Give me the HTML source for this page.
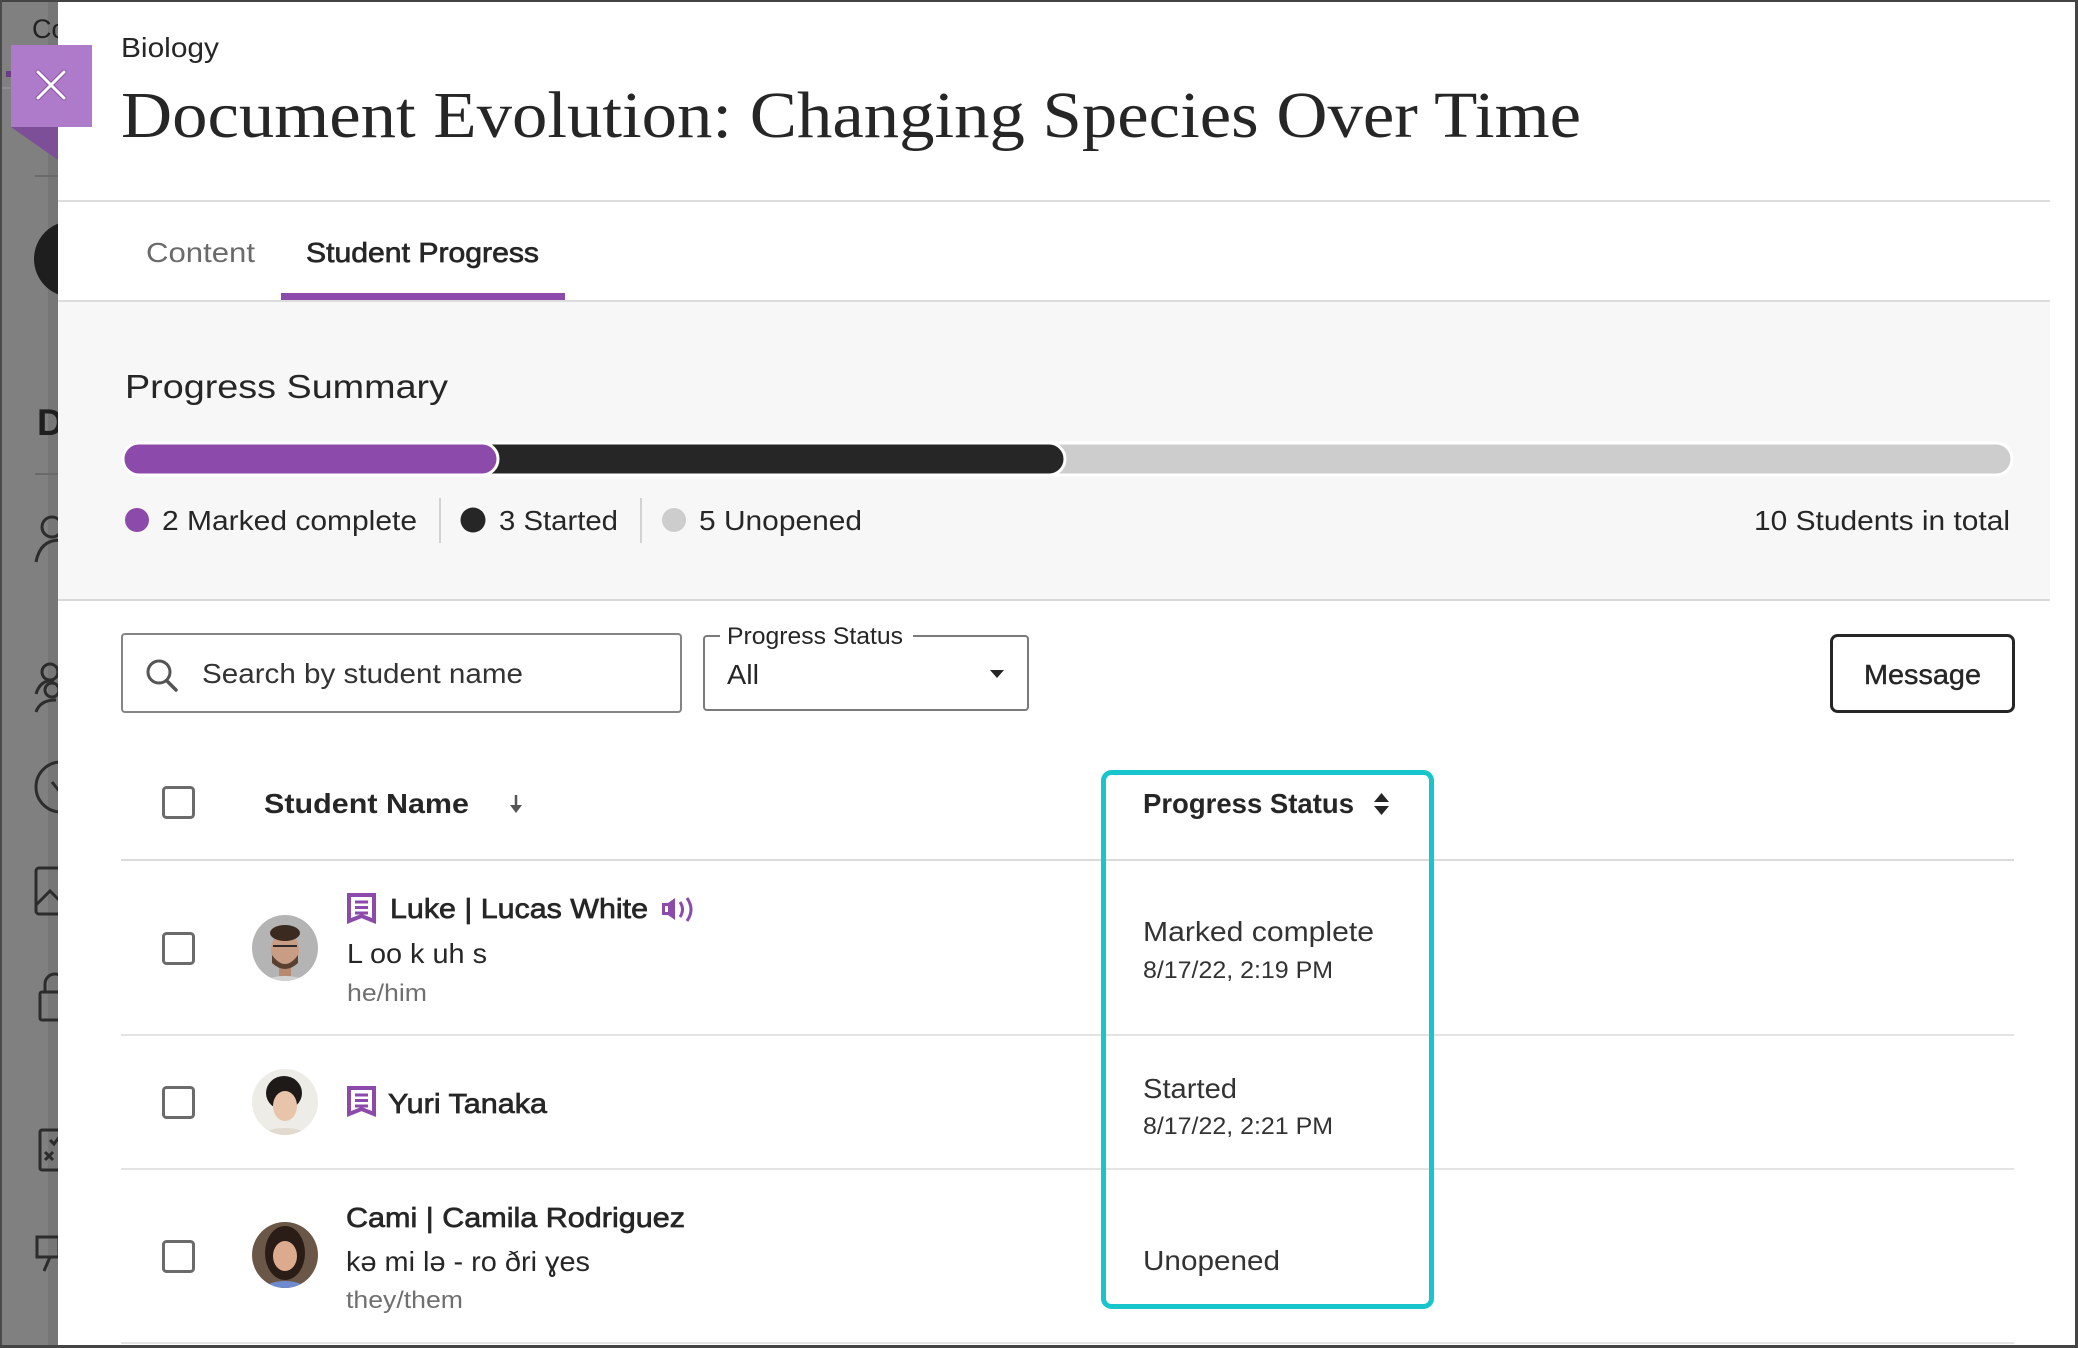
<!DOCTYPE html>
<html>
<head>
<meta charset="utf-8">
<style>
html,body{margin:0;padding:0;background:#fff;width:2078px;height:1348px;overflow:hidden;}
svg{display:block;}
text{font-family:"Liberation Sans","DejaVu Sans",Arial,sans-serif;fill:#262626;}
.serif{font-family:"Liberation Serif","DejaVu Serif",serif;}
.semi{stroke:#262626;stroke-width:0.7px;}
.bold{font-weight:bold;}
</style>
</head>
<body>
<svg width="2078" height="1348" viewBox="0 0 2078 1348" xmlns="http://www.w3.org/2000/svg">
  <defs>
    <clipPath id="c1"><circle cx="285" cy="948" r="33"/></clipPath>
    <clipPath id="c2"><circle cx="285" cy="1102" r="33"/></clipPath>
    <clipPath id="c3"><circle cx="285" cy="1255" r="33"/></clipPath>
  </defs>

  <!-- page background -->
  <rect x="0" y="0" width="2078" height="1348" fill="#ffffff"/>

  <!-- ===== Left dimmed sidebar ===== -->
  <rect x="0" y="0" width="60" height="1348" fill="#808080"/>
  <rect x="48" y="0" width="12" height="1348" fill="#767676"/>
  <text x="32" y="38" font-size="27" style="fill:#222">Co</text>
  <rect x="6" y="71" width="8" height="6" fill="#6a3d86"/>
  <line x1="0" y1="88" x2="20" y2="88" stroke="#8e8e8e" stroke-width="2"/>
  <line x1="35" y1="176" x2="60" y2="176" stroke="#6a6a6a" stroke-width="2"/>
  <circle cx="72" cy="259" r="38" fill="#1e1e1e"/>
  <text x="37" y="435" font-size="37" class="bold" style="fill:#1f1f1f">D</text>
  <line x1="35" y1="474" x2="60" y2="474" stroke="#6a6a6a" stroke-width="2"/>
  <g fill="none" stroke="#2c2c2c" stroke-width="3">
    <circle cx="52" cy="527" r="10"/>
    <path d="M36,562 q4,-22 24,-22"/>
    <circle cx="50" cy="672" r="8"/>
    <path d="M36,694 q4,-14 18,-14"/>
    <circle cx="52" cy="690" r="7"/>
    <path d="M36,712 q4,-12 20,-12"/>
    <circle cx="61" cy="787" r="25"/>
    <path d="M52,782 l8,10"/>
    <rect x="36" y="868" width="40" height="46" rx="3"/>
    <path d="M36,905 l14,-14 l12,12"/>
    <rect x="40" y="992" width="30" height="28" rx="2"/>
    <path d="M45,992 v-8 a10,10 0 0 1 20,0"/>
    <rect x="40" y="1130" width="30" height="40" rx="2"/>
    <path d="M45,1152 l8,8 M53,1152 l-8,8 M50,1140 l4,4 l6,-8"/>
    <path d="M37,1237 h22 v20 h-22 z M50,1257 l-6,14"/>
  </g>

  <!-- ===== Main white panel ===== -->
  <rect x="58" y="0" width="2020" height="1348" fill="#ffffff"/>

  <!-- close button -->
  <polygon points="11,127 58,127 58,160" fill="#7c4f98"/>
  <rect x="11" y="45" width="81" height="82" fill="#ae7bca"/>
  <g stroke="#8a55a8" stroke-width="5" stroke-linecap="round">
    <line x1="38" y1="72" x2="64" y2="98"/>
    <line x1="64" y1="72" x2="38" y2="98"/>
  </g>
  <g stroke="#ffffff" stroke-width="3" stroke-linecap="round">
    <line x1="38" y1="72" x2="64" y2="98"/>
    <line x1="64" y1="72" x2="38" y2="98"/>
  </g>

  <!-- header -->
  <text x="121" y="57" font-size="28" textLength="98" lengthAdjust="spacingAndGlyphs">Biology</text>
  <text x="121" y="137" font-size="66" class="serif" textLength="1460" lengthAdjust="spacingAndGlyphs">Document Evolution: Changing Species Over Time</text>
  <rect x="58" y="200" width="1992" height="2" fill="#dcdcdc"/>

  <!-- tabs -->
  <text x="146" y="262" font-size="28" textLength="109" lengthAdjust="spacingAndGlyphs" style="fill:#6a6a6a">Content</text>
  <text x="306" y="262" font-size="28" class="semi" textLength="233" lengthAdjust="spacingAndGlyphs">Student Progress</text>
  <rect x="58" y="300" width="1992" height="2" fill="#dcdcdc"/>
  <rect x="281" y="293" width="284" height="7" fill="#8c4bab"/>

  <!-- progress summary panel -->
  <rect x="58" y="302" width="1992" height="298" fill="#f7f7f7"/>
  <rect x="58" y="599" width="1992" height="2" fill="#d9d9d9"/>
  <text x="125" y="398" font-size="33" textLength="323" lengthAdjust="spacingAndGlyphs">Progress Summary</text>

  <!-- progress bar -->
  <rect x="123" y="443" width="1889" height="32" rx="16" fill="#cdcdcd" stroke="#ffffff" stroke-width="3"/>
  <rect x="123" y="443" width="942" height="32" rx="16" fill="#262626" stroke="#ffffff" stroke-width="3"/>
  <rect x="123" y="443" width="375" height="32" rx="16" fill="#8c4bab" stroke="#ffffff" stroke-width="3"/>

  <!-- legend -->
  <circle cx="137" cy="520" r="12" fill="#8c4bab"/>
  <text x="162" y="530" font-size="28" textLength="255" lengthAdjust="spacingAndGlyphs">2 Marked complete</text>
  <rect x="439" y="498" width="2" height="45" fill="#d2d2d2"/>
  <circle cx="473" cy="520" r="12.5" fill="#262626"/>
  <text x="499" y="530" font-size="28" textLength="119" lengthAdjust="spacingAndGlyphs">3 Started</text>
  <rect x="640" y="498" width="2" height="45" fill="#d2d2d2"/>
  <circle cx="674" cy="520" r="12" fill="#cdcdcd"/>
  <text x="699" y="530" font-size="28" textLength="163" lengthAdjust="spacingAndGlyphs">5 Unopened</text>
  <text x="1754" y="530" font-size="28" textLength="256" lengthAdjust="spacingAndGlyphs">10 Students in total</text>

  <!-- search box -->
  <rect x="122" y="634" width="559" height="78" rx="3" fill="#ffffff" stroke="#858585" stroke-width="2"/>
  <circle cx="159" cy="672" r="11" fill="none" stroke="#555" stroke-width="3"/>
  <line x1="167" y1="681" x2="176" y2="690" stroke="#555" stroke-width="3.5" stroke-linecap="round"/>
  <text x="202" y="683" font-size="28" textLength="321" lengthAdjust="spacingAndGlyphs" style="fill:#333">Search by student name</text>

  <!-- dropdown -->
  <rect x="704" y="636" width="324" height="74" rx="3" fill="#ffffff" stroke="#7a7a7a" stroke-width="2"/>
  <rect x="720" y="630" width="193" height="10" fill="#ffffff"/>
  <text x="727" y="644" font-size="24" textLength="176" lengthAdjust="spacingAndGlyphs">Progress Status</text>
  <text x="727" y="684" font-size="28" textLength="32" lengthAdjust="spacingAndGlyphs">All</text>
  <polygon points="990,670 1004,670 997,678" fill="#262626"/>

  <!-- message button -->
  <rect x="1831.5" y="635.5" width="182" height="76" rx="6" fill="#ffffff" stroke="#262626" stroke-width="3"/>
  <text x="1864" y="684" font-size="28" class="semi" textLength="117" lengthAdjust="spacingAndGlyphs" style="stroke-width:0.4px">Message</text>

  <!-- table header -->
  <rect x="163.5" y="787.5" width="30" height="30" rx="3" fill="#fff" stroke="#6b6b6b" stroke-width="3"/>
  <text x="264" y="813" font-size="28" class="bold" textLength="205" lengthAdjust="spacingAndGlyphs">Student Name</text>
  <line x1="516" y1="795" x2="516" y2="808" stroke="#555" stroke-width="2.5"/>
  <polygon points="510,805 522,805 516,813" fill="#555"/>
  <text x="1143" y="813" font-size="28" class="bold" textLength="211" lengthAdjust="spacingAndGlyphs">Progress Status</text>
  <polygon points="1374,802 1389,802 1381.5,793" fill="#262626"/>
  <polygon points="1374,806 1389,806 1381.5,815" fill="#262626"/>
  <rect x="121" y="859" width="1893" height="2" fill="#dadada"/>

  <!-- row 1 -->
  <rect x="163.5" y="933.5" width="30" height="30" rx="3" fill="#fff" stroke="#6b6b6b" stroke-width="3"/>
  <g clip-path="url(#c1)">
    <rect x="250" y="913" width="70" height="70" fill="#b4b4b4"/>
    <ellipse cx="285" cy="990" rx="30" ry="14" fill="#d2d2d2"/>
    <rect x="279" y="962" width="12" height="14" fill="#b88a70"/>
    <ellipse cx="285" cy="950" rx="14" ry="18" fill="#c99c84"/>
    <path d="M272,955 q13,18 26,0 v8 q-13,12 -26,0 z" fill="#5a4030"/>
    <ellipse cx="285" cy="933" rx="15" ry="8" fill="#3b2a20"/>
    <line x1="273" y1="946" x2="297" y2="946" stroke="#2a2a2a" stroke-width="2"/>
  </g>
  <path d="M349,895 h25 v26 l-12.5,-5 l-12.5,5 z" fill="#fff" stroke="#8c4bab" stroke-width="4"/>
  <g stroke="#8c4bab" stroke-width="3"><line x1="355" y1="902" x2="368" y2="902"/><line x1="355" y1="907.5" x2="368" y2="907.5"/><line x1="355" y1="913" x2="368" y2="913"/></g>
  <text x="390" y="918" font-size="28" class="semi" textLength="258" lengthAdjust="spacingAndGlyphs">Luke | Lucas White</text>
  <path d="M662,903 h6 l7,-5 v22 l-7,-5 h-6 z" fill="#8c4bab"/>
  <rect x="665" y="906" width="3" height="6" fill="#fff"/>
  <path d="M680,902 q5,7.5 0,15 M687,898 q8,11.5 0,23" fill="none" stroke="#8c4bab" stroke-width="3"/>
  <text x="347" y="963" font-size="28" textLength="140" lengthAdjust="spacingAndGlyphs">L oo k uh s</text>
  <text x="347" y="1001" font-size="24" textLength="80" lengthAdjust="spacingAndGlyphs" style="fill:#707070">he/him</text>
  <text x="1143" y="941" font-size="28" textLength="231" lengthAdjust="spacingAndGlyphs" style="fill:#333">Marked complete</text>
  <text x="1143" y="978" font-size="24" textLength="190" lengthAdjust="spacingAndGlyphs" style="fill:#333">8/17/22, 2:19 PM</text>
  <rect x="121" y="1034" width="1893" height="2" fill="#e4e4e4"/>

  <!-- row 2 -->
  <rect x="163.5" y="1087.5" width="30" height="30" rx="3" fill="#fff" stroke="#6b6b6b" stroke-width="3"/>
  <g clip-path="url(#c2)">
    <rect x="250" y="1067" width="70" height="70" fill="#eeece6"/>
    <ellipse cx="285" cy="1140" rx="26" ry="12" fill="#e2d9cf"/>
    <ellipse cx="284" cy="1093" rx="18" ry="17" fill="#1e1a18"/>
    <ellipse cx="285" cy="1106" rx="12" ry="15" fill="#e8c4aa"/>
  </g>
  <path d="M349,1088 h25 v26 l-12.5,-5 l-12.5,5 z" fill="#fff" stroke="#8c4bab" stroke-width="4"/>
  <g stroke="#8c4bab" stroke-width="3"><line x1="355" y1="1095" x2="368" y2="1095"/><line x1="355" y1="1100.5" x2="368" y2="1100.5"/><line x1="355" y1="1106" x2="368" y2="1106"/></g>
  <text x="388" y="1113" font-size="28" class="semi" textLength="159" lengthAdjust="spacingAndGlyphs">Yuri Tanaka</text>
  <text x="1143" y="1098" font-size="28" textLength="94" lengthAdjust="spacingAndGlyphs" style="fill:#333">Started</text>
  <text x="1143" y="1134" font-size="24" textLength="190" lengthAdjust="spacingAndGlyphs" style="fill:#333">8/17/22, 2:21 PM</text>
  <rect x="121" y="1168" width="1893" height="2" fill="#e4e4e4"/>

  <!-- row 3 -->
  <rect x="163.5" y="1241.5" width="30" height="30" rx="3" fill="#fff" stroke="#6b6b6b" stroke-width="3"/>
  <g clip-path="url(#c3)">
    <rect x="250" y="1220" width="70" height="70" fill="#6b5747"/>
    <ellipse cx="285" cy="1253" rx="20" ry="27" fill="#2a1c16"/>
    <ellipse cx="285" cy="1293" rx="24" ry="12" fill="#6f8bd0"/>
    <ellipse cx="285" cy="1256" rx="12" ry="15" fill="#dcab8e"/>
  </g>
  <text x="346" y="1227" font-size="28" class="semi" textLength="339" lengthAdjust="spacingAndGlyphs">Cami | Camila Rodriguez</text>
  <text x="346" y="1271" font-size="28" textLength="244" lengthAdjust="spacingAndGlyphs">kə mi lə - ro ðri ɣes</text>
  <text x="346" y="1308" font-size="24" textLength="117" lengthAdjust="spacingAndGlyphs" style="fill:#707070">they/them</text>
  <text x="1143" y="1270" font-size="28" textLength="137" lengthAdjust="spacingAndGlyphs" style="fill:#333">Unopened</text>
  <rect x="121" y="1342" width="1893" height="2" fill="#e4e4e4"/>

  <!-- teal highlight box -->
  <rect x="1103.5" y="772.5" width="328" height="534" rx="8" fill="none" stroke="#19c5cc" stroke-width="5"/>

  <!-- outer image border -->
  <rect x="0" y="0" width="2078" height="2" fill="#444"/>
  <rect x="0" y="0" width="2" height="1348" fill="#4a4a4a"/>
  <rect x="2075" y="0" width="3" height="1348" fill="#444"/>
  <rect x="0" y="1345" width="2078" height="3" fill="#444"/>
</svg>
</body>
</html>
